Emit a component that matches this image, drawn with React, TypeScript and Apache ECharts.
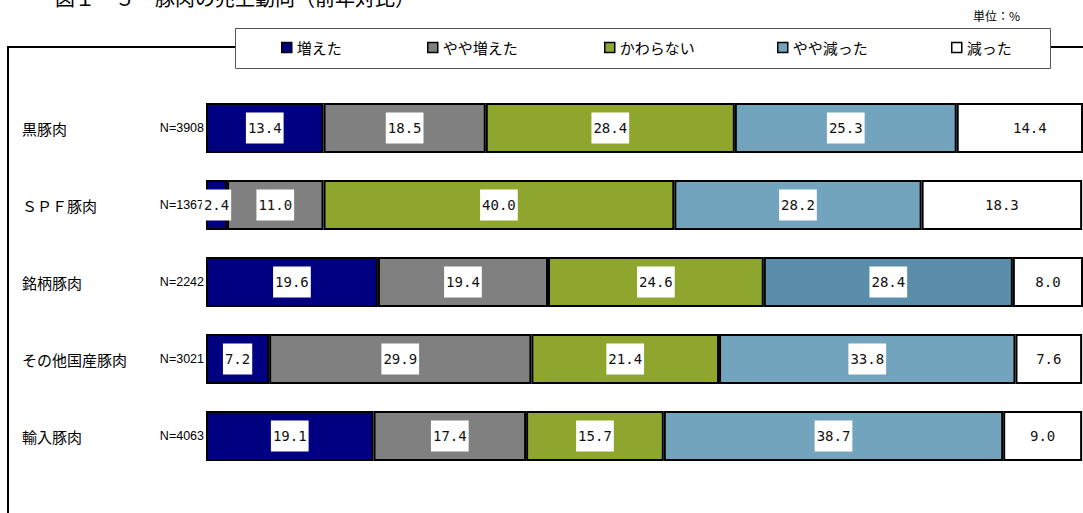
import React, { useEffect, useRef } from "react";
import * as echarts from "echarts";

const categories = ["黒豚肉", "ＳＰＦ豚肉", "銘柄豚肉", "その他国産豚肉", "輸入豚肉"];
const sampleN = [3908, 1367, 2242, 3021, 4063];
const seriesNames = ["増えた", "やや増えた", "かわらない", "やや減った", "減った"];
const increased = [13.4, 2.4, 19.6, 7.2, 19.1];
const slightlyIncreased = [18.5, 11.0, 19.4, 29.9, 17.4];
const unchanged = [28.4, 40.0, 24.6, 21.4, 15.7];
const slightlyDecreased = [25.3, 28.2, 28.4, 33.8, 38.7];
const decreased = [14.4, 18.3, 8.0, 7.6, 9.0];

const seriesValues = [increased, slightlyIncreased, unchanged, slightlyDecreased, decreased];
const seriesColors = ["#000080", "#808080", "#8FA62E", "#72A5BD", "#FFFFFF"];

const CJK = "'Noto Sans CJK JP', 'Noto Sans', sans-serif";
const MONO = "'DejaVu Sans Mono', monospace";

export default function App() {
  const ref = useRef<HTMLDivElement>(null);
  useEffect(() => {
    if (!ref.current) return;
    const chart = echarts.init(ref.current, null, { renderer: "svg" });
    const legendX = [281, 427, 604, 777, 951];
    const series = seriesNames.map((name, si) => ({
      name,
      type: "bar",
      stack: "total",
      barWidth: 50,
      itemStyle: { color: seriesColors[si], borderColor: "#000", borderWidth: 2 },
      label: {
        show: true,
        position: "inside",
        formatter: (p: any) => Number(p.value).toFixed(1),
        color: "#111",
        fontFamily: MONO,
        fontSize: 14,
        backgroundColor: "#fff",
        padding: [9, 2, 8, 2],
      },
      data: seriesValues[si].map((v, ci) => {
        if (si === 3 && ci === 2) return { value: v, itemStyle: { color: "#5B8EAA" } };
        if (si === 4 && ci === 0) return { value: v, label: { offset: [10, 0] } };
        return v;
      }),
    }));
    chart.setOption({
      animation: false,
      grid: { left: 206, right: -13, top: 89.5, height: 385, containLabel: false },
      xAxis: { type: "value", min: 0, max: 100, show: false },
      yAxis: {
        type: "category",
        inverse: true,
        data: categories,
        axisLine: { show: false },
        axisTick: { show: false },
        axisLabel: {
          margin: 2,
          formatter: (v: string, i: number) => `{name|${v}}{n|N=${sampleN[i]}}`,
          rich: {
            name: { width: 138, align: "left", fontSize: 15, fontFamily: CJK, color: "#000" },
            n: { width: 44, align: "right", fontSize: 12.5, fontFamily: "'Liberation Sans', Arial, sans-serif", color: "#000" },
          },
        },
      },
      legend: seriesNames.map((n, i) => ({
        data: [n],
        left: legendX[i],
        top: 40,
        padding: 0,
        icon: "rect",
        itemWidth: 10,
        itemHeight: 10,
        selectedMode: false,
        itemStyle: { borderColor: "#000", borderWidth: 1.5 },
        textStyle: { fontSize: 15, fontFamily: CJK, color: "#000" },
      })),
      graphic: [
        {
          type: "rect",
          z: -10,
          shape: { x: 8, y: 47, width: 1200, height: 600 },
          style: { fill: "none", stroke: "#000", lineWidth: 2 },
          silent: true,
        },
        {
          type: "rect",
          z: -5,
          shape: { x: 235.5, y: 28.5, width: 815, height: 40 },
          style: { fill: "#fff", stroke: "#555", lineWidth: 1 },
          silent: true,
        },
        {
          type: "text",
          x: 55,
          y: -3,
          style: {
            text: "図１－５　豚肉の売上動向（前年対比）",
            fontSize: 20,
            fontFamily: CJK,
            fill: "#000",
            verticalAlign: "middle",
          },
        },
        {
          type: "text",
          x: 973,
          y: 15,
          style: { text: "単位：%", fontSize: 12, fontFamily: CJK, fill: "#000", verticalAlign: "middle" },
        },
      ],
      series,
    });
    return () => chart.dispose();
  }, []);
  return (
    <div
      ref={ref}
      style={{ position: "fixed", left: 0, top: 0, width: 1083, height: 513, background: "#fff" }}
    />
  );
}
